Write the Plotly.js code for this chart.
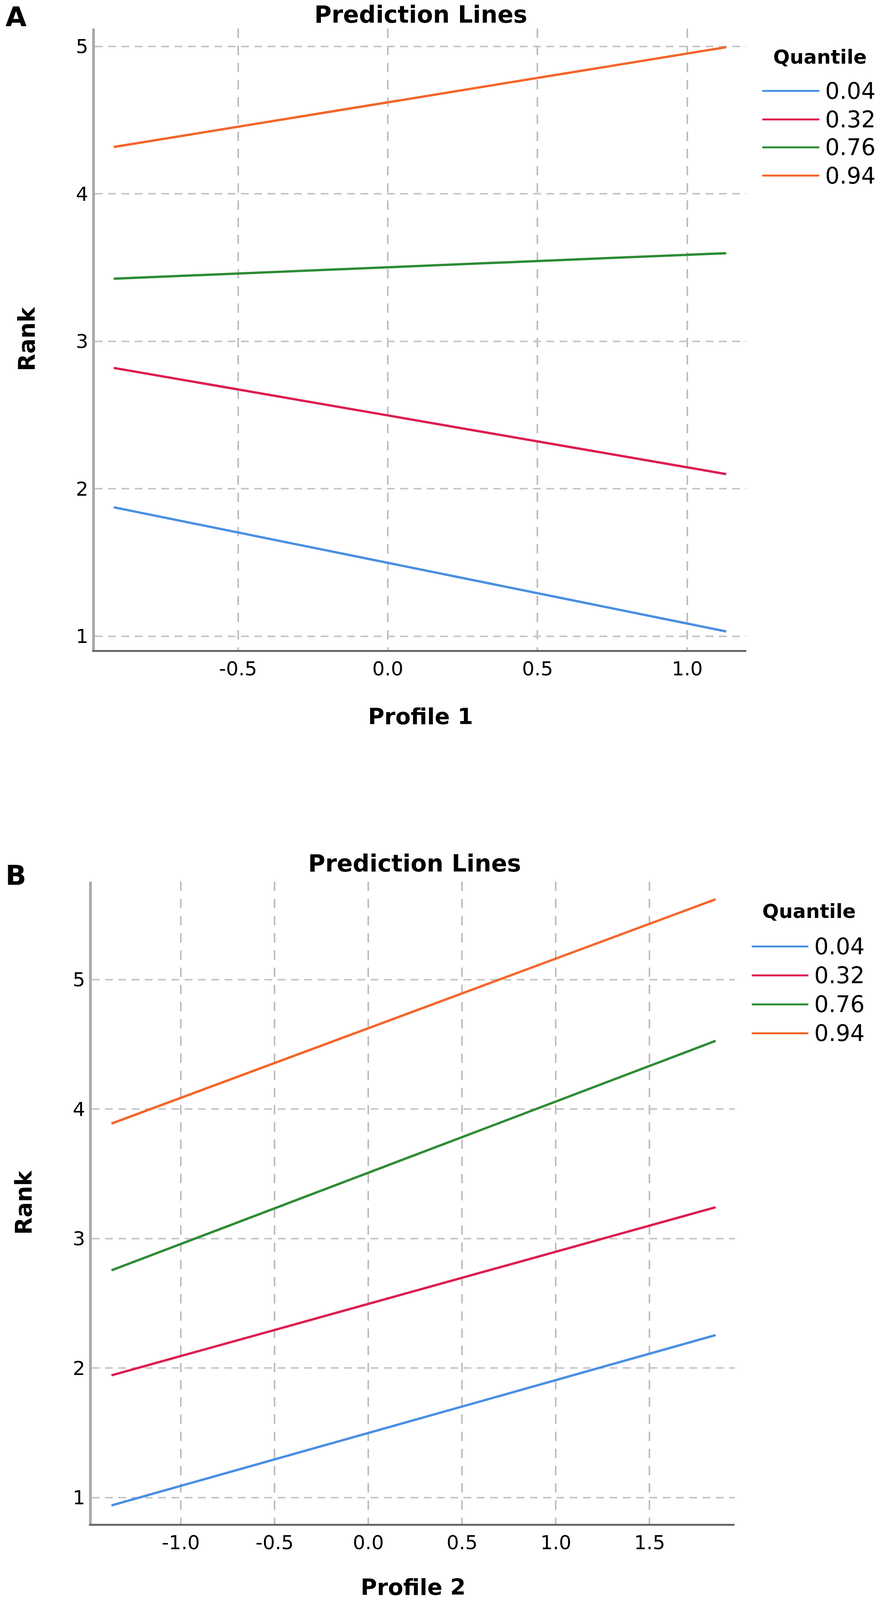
<!DOCTYPE html>
<html>
<head>
<meta charset="utf-8">
<script src="https://cdn.plot.ly/plotly-3.0.1.min.js"></script>
<style>
  html, body { margin: 0; padding: 0; background: #fff; overflow: hidden; }
</style>
</head>
<body>
<div id="chart"></div>
<script>
// quantile labels and colours
const quantiles = ['0.04', '0.32', '0.76', '0.94'];
const lineColors = ['#4a8fe2', '#dc1e50', '#2e8b34', '#f5652a'];

// panel A: Profile 1 (prediction line end points)
const profile1 = [-0.915, 1.13];
const rankA_q04 = [1.875, 1.033];
const rankA_q32 = [2.82, 2.10];
const rankA_q76 = [3.425, 3.598];
const rankA_q94 = [4.318, 4.995];

// panel B: Profile 2
const profile2 = [-1.37, 1.852];
const rankB_q04 = [0.94, 2.255];
const rankB_q32 = [1.944, 3.242];
const rankB_q76 = [2.755, 4.527];
const rankB_q94 = [3.888, 5.62];

// tick labels
const profile1Ticks = [-0.5, 0, 0.5, 1.0];
const profile1TickText = ['-0.5', '0.0', '0.5', '1.0'];
const profile2Ticks = [-1.0, -0.5, 0, 0.5, 1.0, 1.5];
const profile2TickText = ['-1.0', '-0.5', '0.0', '0.5', '1.0', '1.5'];
const rankTicks = [1, 2, 3, 4, 5];

const panelA = [rankA_q04, rankA_q32, rankA_q76, rankA_q94];
const panelB = [rankB_q04, rankB_q32, rankB_q76, rankB_q94];

// the figure is laid out on a 2256 x 4647 grid; the visible window can be shorter,
// so the height follows the window and sizes shrink a little with it
const W = 2256, REF_H = 4647;
const H = Math.min(window.innerHeight || REF_H, REF_H);
const sy = H / REF_H;
const fs = (1 + sy) / 2;
function px(x) { return x / W; }
function py(y) { return 1 - y / REF_H; }
function f(size) { return Math.round(size * fs); }

document.getElementById('chart').style.width = W + 'px';
document.getElementById('chart').style.height = H + 'px';

const FONT = 'DejaVu Sans';

let traces = [];
for (let i = 0; i < quantiles.length; i++) {
    traces.push({
        x: profile1, y: panelA[i], xaxis: 'x', yaxis: 'y',
        mode: 'lines', name: quantiles[i], showlegend: false,
        line: {color: lineColors[i], width: 6}
    });
    traces.push({
        x: profile2, y: panelB[i], xaxis: 'x2', yaxis: 'y2',
        mode: 'lines', name: quantiles[i], showlegend: false,
        line: {color: lineColors[i], width: 6}
    });
}

function xAxis(domain, range, title, anchor, tickvals, ticktext) {
    return {
        domain: domain, range: range, anchor: anchor,
        showline: true, linecolor: '#666666', linewidth: 5,
        showgrid: true, gridcolor: '#bdbdbd', gridwidth: 4, griddash: '24px,20px',
        zeroline: false, ticks: '', tickmode: 'array', tickvals: tickvals, ticktext: ticktext,
        tickfont: {family: FONT, size: f(53), color: '#000'},
        title: {text: title, font: {family: FONT, size: f(61), weight: 'bold', color: '#000'},
                standoff: Math.round(86 * sy)}
    };
}
function yAxis(domain, range, anchor) {
    return {
        domain: domain, range: range, anchor: anchor,
        showline: true, linecolor: '#aaaaaa', linewidth: 7,
        showgrid: true, gridcolor: '#c6c6c6', gridwidth: 4, griddash: '20px,14px',
        zeroline: false, ticks: '', tickmode: 'array', tickvals: rankTicks,
        tickfont: {family: FONT, size: f(53), color: '#000'},
        title: {text: 'Rank', font: {family: FONT, size: f(62), weight: 'bold', color: '#000'}, standoff: 88}
    };
}

let shapes = [];
let annotations = [];

function addLegend(titleX, titleY, lineX0, lineX1, textX, rowsY) {
    annotations.push({
        xref: 'paper', yref: 'paper', x: px(titleX), y: py(titleY),
        xanchor: 'center', yanchor: 'middle', showarrow: false, text: 'Quantile',
        font: {family: FONT, size: f(53), weight: 'bold', color: '#000'}
    });
    for (let i = 0; i < quantiles.length; i++) {
        shapes.push({
            type: 'line', xref: 'paper', yref: 'paper',
            x0: px(lineX0), x1: px(lineX1), y0: py(rowsY[i]), y1: py(rowsY[i]),
            line: {color: lineColors[i], width: 5}
        });
        annotations.push({
            xref: 'paper', yref: 'paper', x: px(textX), y: py(rowsY[i]),
            xanchor: 'left', yanchor: 'middle', showarrow: false, text: quantiles[i],
            font: {family: FONT, size: f(62), color: '#000'}
        });
    }
}

// panel letter and title; at the top edge they hang from the paper's top
function addHeading(label, labelY, titleX, titleY, atTop) {
    annotations.push({
        xref: 'paper', yref: 'paper', x: px(12), y: atTop ? 1 : py(labelY),
        xanchor: 'left', yanchor: atTop ? 'top' : 'middle', showarrow: false, text: label,
        font: {family: FONT, size: f(74), weight: 'bold', color: '#000'}
    });
    annotations.push({
        xref: 'paper', yref: 'paper', x: px(titleX), y: atTop ? 1 : py(titleY),
        xanchor: 'center', yanchor: atTop ? 'top' : 'middle', showarrow: false, text: 'Prediction Lines',
        font: {family: FONT, size: f(64), weight: 'bold', color: '#000'}
    });
}

addHeading('A', 36, 1077, 31, true);
addHeading('B', 2543, 1061, 2507, false);
addLegend(2100, 166, 1952, 2098, 2111, [264, 347, 428, 510]);
addLegend(2072, 2647, 1925, 2070, 2083, [2749, 2833, 2917, 3001]);

let layout = {
    width: W, height: H,
    margin: {l: 0, r: 0, t: 0, b: 0},
    paper_bgcolor: '#fff', plot_bgcolor: '#fff',
    showlegend: false,
    font: {family: FONT, color: '#000'},
    xaxis: xAxis([px(243), px(1911)], [-0.978, 1.197], 'Profile 1', 'y', profile1Ticks, profile1TickText),
    yaxis: yAxis([py(1887.5), py(83)], [0.908, 5.121], 'x'),
    xaxis2: xAxis([px(235), px(1881)], [-1.475, 1.953], 'Profile 2', 'y2', profile2Ticks, profile2TickText),
    yaxis2: yAxis([py(4426), py(2561)], [0.797, 5.755], 'x2'),
    shapes: shapes,
    annotations: annotations
};

Plotly.newPlot('chart', traces, layout, {staticPlot: true, displayModeBar: false});
</script>
</body>
</html>
